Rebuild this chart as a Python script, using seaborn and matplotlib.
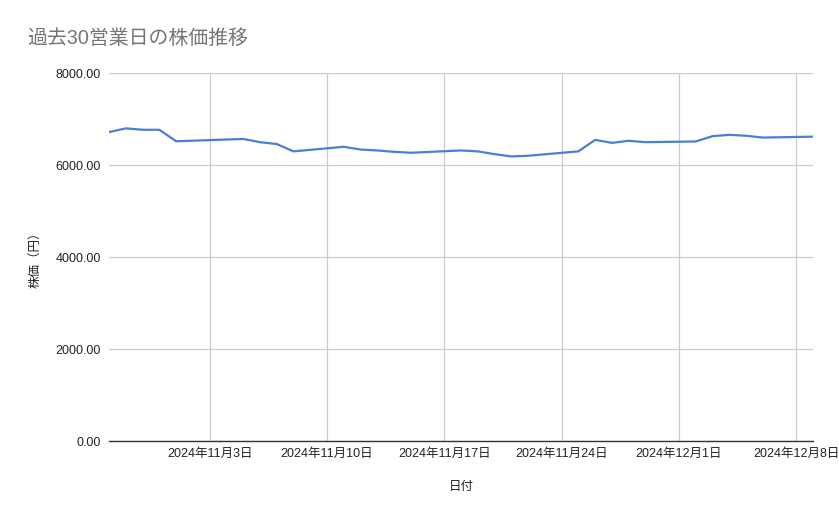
import matplotlib
matplotlib.use("Agg")
import matplotlib.pyplot as plt
import matplotlib.dates as mdates
from matplotlib.ticker import FuncFormatter
import seaborn as sns
import pandas as pd

# data
dates = ["2024-10-28", "2024-10-29", "2024-10-30", "2024-10-31", "2024-11-01",
         "2024-11-05", "2024-11-06", "2024-11-07", "2024-11-08",
         "2024-11-11", "2024-11-12", "2024-11-13", "2024-11-14", "2024-11-15",
         "2024-11-18", "2024-11-19", "2024-11-20", "2024-11-21", "2024-11-22",
         "2024-11-25", "2024-11-26", "2024-11-27", "2024-11-28", "2024-11-29",
         "2024-12-02", "2024-12-03", "2024-12-04", "2024-12-05", "2024-12-06",
         "2024-12-09"]
prices = [6720, 6800, 6770, 6770, 6520,
          6570, 6500, 6460, 6300,
          6400, 6340, 6320, 6290, 6270,
          6320, 6300, 6240, 6190, 6205,
          6300, 6550, 6485, 6530, 6500,
          6515, 6630, 6660, 6640, 6600,
          6620]
y_ticks = [0, 2000, 4000, 6000, 8000]

title_text = "過去30営業日の株価推移"
x_title = "日付"
y_title = "株価（円）"

df = pd.DataFrame({"date": pd.to_datetime(dates), "price": prices})

sns.set_theme(style="white")
plt.rcParams["font.family"] = ["Liberation Sans", "Noto Sans CJK JP", "DejaVu Sans"]

fig = plt.figure(figsize=(8.39, 5.19), dpi=100)
ax = fig.add_axes([0.130, 0.150, 0.839, 0.709])

sns.lineplot(data=df, x="date", y="price", ax=ax, color="#4a7fd6", linewidth=1.6)

ax.set_xlim(df["date"].min(), df["date"].max())
ax.set_ylim(0, 8000)
ax.set_yticks(y_ticks)
ax.yaxis.set_major_formatter(FuncFormatter(lambda v, p: f"{v:.2f}"))

ax.xaxis.set_major_locator(mdates.WeekdayLocator(byweekday=mdates.SU))
ax.xaxis.set_major_formatter(FuncFormatter(
    lambda v, p: (lambda d: f"{d.year}年{d.month}月{d.day}日")(mdates.num2date(v))))

# grid like google sheets
ax.grid(True, color="#cccccc", linewidth=0.9)
ax.set_axisbelow(True)
for s in ["top", "right", "left"]:
    ax.spines[s].set_visible(False)
ax.spines["bottom"].set_color("#333333")
ax.spines["bottom"].set_linewidth(1.0)
ax.tick_params(axis="both", length=0, labelsize=9, colors="#222222")
ax.tick_params(axis="y", pad=6)
ax.tick_params(axis="x", pad=5)

ax.set_xlabel(x_title, fontsize=9, color="#222222", labelpad=15)
ax.set_ylabel(y_title, fontsize=9, color="#222222", labelpad=10)

fig.text(0.032, 0.925, title_text, fontsize=14.3, color="#757575", va="center", ha="left")

fig.savefig("out.png", dpi=100, facecolor="white")
